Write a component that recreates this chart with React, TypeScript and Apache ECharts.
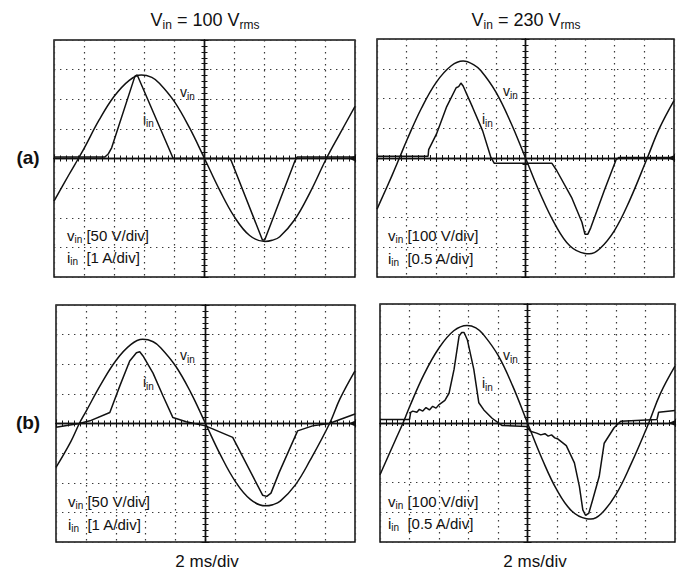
import { useEffect, useRef } from 'react';
import * as echarts from 'echarts';

// Time in ms relative to screen centre (2 ms/div, 10 div)
// Panel (a), Vin = 100 Vrms : vin [V], iin [A]
const a100VinT = [-10, -9, -8.38, -8, -7, -6, -5, -4.2, -3.5, -3, -2, -1, 0, 1, 2, 3, 4, 4.5, 5, 6, 7, 8.1, 9, 10];
const a100VinV = [-72, -27, 0, 17, 65, 105, 132, 141, 137, 127, 96, 52, 0, -53, -99, -130, -140, -138, -132, -103, -58, 0, 42, 88];
const a100IinT = [-10, -6.62, -6.4, -6.17, -4.62, -4.47, -2.08, 1.68, 1.79, 3.85, 4.0, 6.0, 6.15, 10];
const a100IinA = [0.05, 0.05, 0.15, 0.36, 2.78, 2.82, 0, 0, -0.09, -2.75, -2.75, -0.09, 0.05, 0.05];

// Panel (a), Vin = 230 Vrms
const a230VinT = [-10, -9, -8.49, -8, -7, -6, -5, -4.2, -3.5, -3, -2, -1, 0, 1, 2, 3, 4, 4.3, 5, 6, 7, 8.2, 9, 10];
const a230VinV = [-172, -60, 0, 59, 168, 255, 310, 326, 314, 293, 222, 120, 0, -121, -224, -296, -321, -322, -305, -243, -144, 0, 98, 193];
const a230IinT = [-10, -6.56, -6.52, -6.0, -5.33, -4.67, -4.5, -4.35, -4.2, -3.56, -2.89, -2.33, -2.1, 1.78, 2.1, 3.1, 3.8, 4.0, 4.2, 4.4, 5.3, 6.1, 6.3, 10];
const a230IinA = [0.03, 0.03, 0.14, 0.4, 0.85, 1.18, 1.2, 1.26, 1.21, 0.85, 0.46, 0.01, -0.09, -0.09, -0.21, -0.66, -1.08, -1.28, -1.28, -1.17, -0.55, -0.03, 0.01, 0.01];

// Panel (b), Vin = 100 Vrms
const b100VinT = [-10, -9, -8.44, -8, -7, -6, -5, -4.2, -3.5, -3, -2, -1, 0, 1, 2, 3, 4, 4.5, 5, 6, 7, 8.3, 9, 10];
const b100VinV = [-74, -30, 0, 20, 66, 106, 133, 142, 138, 128, 97, 53, 0, -53, -98, -128, -139, -137, -131, -104, -62, 0, 42, 89];
const b100IinT = [-10, -8.44, -7.73, -6.4, -5.73, -5.07, -4.62, -4.4, -4.18, -3.51, -2.84, -2.18, -1.29, 0, 1.82, 3.82, 4.1, 4.38, 4.93, 6.16, 7.16, 8.27, 10];
const b100IinA = [-0.13, 0, 0.09, 0.37, 1.27, 2.11, 2.39, 2.42, 2.28, 1.7, 0.93, 0.2, 0.06, -0.08, -0.47, -2.42, -2.46, -2.35, -1.65, -0.25, -0.08, 0, 0.32];

// Panel (b), Vin = 230 Vrms
const b230VinT = [-10, -9, -8.44, -8, -7, -6, -5, -4.1, -3.5, -3, -2, -1, 0, 1, 2, 3, 4, 4.3, 5, 6, 7, 8.22, 9, 10];
const b230VinV = [-174, -62, 0, 54, 165, 252, 310, 328, 320, 298, 228, 124, 0, -122, -226, -296, -322, -323, -305, -240, -140, 0, 98, 191];
const b230IinT = [-10, -8.0, -7.92, -7.78, -7.5, -7.33, -7.1, -6.88, -6.65, -6.43, -6.2, -5.99, -5.6, -5.32, -4.98, -4.64, -4.46, -4.3, -4.08, -3.64, -3.3, -2.96, -2.4, -1.74, -0.05, 0.2, 0.62, 0.9, 1.18, 1.4, 1.63, 1.85, 2.07, 2.63, 3.18, 3.52, 3.75, 3.93, 4.15, 4.42, 4.86, 5.2, 5.87, 6.32, 8.78, 8.89, 10];
const b230IinA = [0.06, 0.06, 0.18, 0.2, 0.18, 0.23, 0.2, 0.26, 0.22, 0.28, 0.25, 0.31, 0.38, 0.5, 0.9, 1.46, 1.52, 1.52, 1.4, 0.9, 0.34, 0.22, 0.08, -0.04, -0.06, -0.14, -0.17, -0.2, -0.18, -0.22, -0.2, -0.25, -0.27, -0.38, -0.67, -1.07, -1.46, -1.55, -1.52, -1.29, -0.9, -0.34, -0.08, 0.03, 0.06, 0.18, 0.21];

// Scales (per division)
const voltScales = [50, 100, 50, 100];
const currScales = [1, 0.5, 1, 0.5];
const voltLabels = ['[50 V/div]', '[100 V/div]', '[50 V/div]', '[100 V/div]'];
const currLabels = [' [1 A/div]', ' [0.5 A/div]', ' [1 A/div]', ' [0.5 A/div]'];
const titles = ['100', '230'];
const rowLabels = ['(a)', '(b)'];
const timeBase = '2 ms/div';

const zip = (t: number[], v: number[]) => t.map((x, i) => [x, v[i]]);

const FONT = '"Liberation Sans", Arial, Helvetica, sans-serif';
const INK = '#111';

const grids = [
  { left: 54, top: 40, width: 301, height: 237 },
  { left: 377, top: 39, width: 297, height: 238 },
  { left: 56, top: 305, width: 299, height: 237 },
  { left: 380, top: 304, width: 295, height: 238 },
];

const vinSeries = [zip(a100VinT, a100VinV), zip(a230VinT, a230VinV), zip(b100VinT, b100VinV), zip(b230VinT, b230VinV)];
const iinSeries = [zip(a100IinT, a100IinA), zip(a230IinT, a230IinA), zip(b100IinT, b100IinA), zip(b230IinT, b230IinA)];

const insideLabelPos = [
  [67, 235, 257],
  [388, 235, 258],
  [68, 501, 524],
  [388, 501, 523],
];
const curveLabelPos = [
  [180, 92, 143, 119],
  [503, 91, 482, 119],
  [180, 355, 143, 382],
  [503, 355, 482, 383],
];

function richText(x: number, y: number, text: string, size: number, sub: number, align = 'left', bold = false) {
  return {
    type: 'text',
    x,
    y,
    silent: true,
    style: {
      text,
      align,
      verticalAlign: 'middle',
      fill: INK,
      fontFamily: FONT,
      fontSize: size,
      fontWeight: bold ? 'bold' : 'normal',
      rich: {
        m: { fontSize: size, fontFamily: FONT, fill: INK, lineHeight: size + 4, fontWeight: bold ? 'bold' : 'normal' },
        s: { fontSize: sub, fontFamily: FONT, fill: INK, lineHeight: sub, verticalAlign: 'bottom' },
      },
    },
  };
}

function buildOption() {
  const xAxis: any[] = [];
  const yAxis: any[] = [];
  const series: any[] = [];
  const dotted = { show: true, lineStyle: { color: '#3a3a3a', width: 1.2, type: [1.4, 4.6] } };
  const tick = { show: true, length: 4, lineStyle: { color: INK, width: 1 } };
  const minor = { show: true, splitNumber: 5, length: 3, lineStyle: { color: INK, width: 1 } };
  grids.forEach((_, k) => {
    const vmax = voltScales[k] * 4;
    const imax = currScales[k] * 4;
    xAxis.push({
      gridIndex: k,
      type: 'value',
      position: 'bottom',
      min: -10,
      max: 10,
      interval: 2,
      axisLabel: { show: false },
      axisLine: { onZero: true, lineStyle: { color: INK, width: 1.4 } },
      axisTick: tick,
      minorTick: minor,
      splitLine: dotted,
    });
    xAxis.push({
      gridIndex: k,
      type: 'value',
      position: 'top',
      min: -10,
      max: 10,
      interval: 2,
      axisLabel: { show: false },
      axisLine: { onZero: true, lineStyle: { color: INK, width: 1.4 } },
      axisTick: tick,
      minorTick: minor,
      splitLine: { show: false },
    });
    yAxis.push({
      gridIndex: k,
      type: 'value',
      position: 'left',
      min: -vmax,
      max: vmax,
      interval: voltScales[k],
      axisLabel: { show: false },
      axisLine: { show: true, onZero: true, lineStyle: { color: INK, width: 1.4 } },
      axisTick: tick,
      minorTick: minor,
      splitLine: dotted,
    });
    yAxis.push({
      gridIndex: k,
      type: 'value',
      position: 'right',
      min: -imax,
      max: imax,
      interval: currScales[k],
      axisLabel: { show: false },
      axisLine: { show: true, onZero: true, lineStyle: { color: INK, width: 1.4 } },
      axisTick: tick,
      minorTick: minor,
      splitLine: { show: false },
    });
    series.push({
      type: 'line',
      xAxisIndex: 2 * k,
      yAxisIndex: 2 * k,
      data: vinSeries[k],
      showSymbol: false,
      smooth: 0.4,
      silent: true,
      lineStyle: { color: INK, width: 1.5 },
    });
    series.push({
      type: 'line',
      xAxisIndex: 2 * k,
      yAxisIndex: 2 * k + 1,
      data: iinSeries[k],
      showSymbol: false,
      smooth: false,
      silent: true,
      lineStyle: { color: INK, width: 1.5 },
      markPoint: {
        symbol: 'triangle',
        symbolSize: [6, 7],
        symbolRotate: 90,
        symbolOffset: [-3, 0],
        silent: true,
        label: { show: false },
        itemStyle: { color: INK },
        data: [{ coord: [10, 0] }],
      },
    });
  });

  const graphic: any[] = [];
  graphic.push(richText(205, 20, `{m|V}{s|in}{m| = ${titles[0]} V}{s|rms}`, 18, 12, 'center'));
  graphic.push(richText(526, 20, `{m|V}{s|in}{m| = ${titles[1]} V}{s|rms}`, 18, 12, 'center'));
  graphic.push(richText(28, 157, `{m|${rowLabels[0]}}`, 19, 12, 'center', true));
  graphic.push(richText(28, 422, `{m|${rowLabels[1]}}`, 19, 12, 'center', true));
  graphic.push(richText(207, 561, `{m|${timeBase}}`, 17, 12, 'center'));
  graphic.push(richText(535, 561, `{m|${timeBase}}`, 17, 12, 'center'));
  insideLabelPos.forEach(([x, yv, yi], k) => {
    graphic.push(richText(x, yv, `{m|v}{s|in}{m| ${voltLabels[k]}}`, 15, 10));
    graphic.push(richText(x, yi, `{m|i}{s|in}{m| ${currLabels[k]}}`, 15, 10));
  });
  curveLabelPos.forEach(([vx, vy, ix, iy]) => {
    graphic.push(richText(vx, vy, '{m|v}{s|in}', 14, 10));
    graphic.push(richText(ix, iy, '{m|i}{s|in}', 14, 10));
  });

  return {
    animation: false,
    backgroundColor: '#fff',
    grid: grids.map((g) => ({ ...g, show: true, borderColor: INK, borderWidth: 1.5, backgroundColor: 'transparent' })),
    xAxis,
    yAxis,
    series,
    graphic,
  };
}

export default function App() {
  const ref = useRef<HTMLDivElement>(null);
  useEffect(() => {
    document.body.style.margin = '0';
    const chart = echarts.init(ref.current!, null, { renderer: 'svg' });
    chart.setOption(buildOption() as any);
    return () => chart.dispose();
  }, []);
  return <div ref={ref} style={{ width: 689, height: 575, background: '#fff' }} />;
}
